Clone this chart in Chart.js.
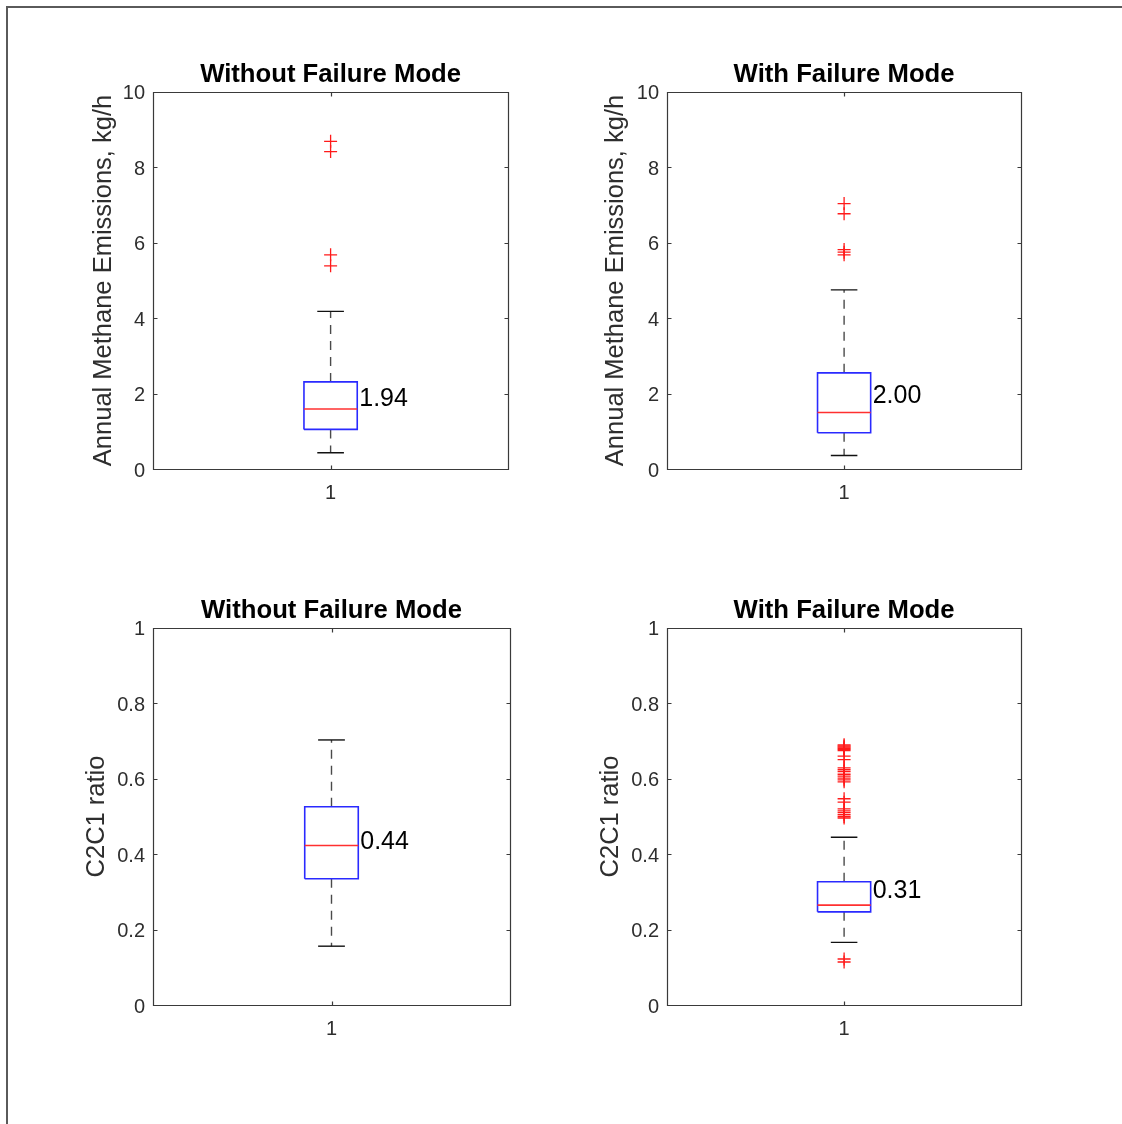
<!DOCTYPE html>
<html><head><meta charset="utf-8">
<script src="https://cdn.jsdelivr.net/npm/chart.js@4.4.0/dist/chart.umd.min.js"></script>
<style>
html,body{margin:0;padding:0;background:#fff;width:1122px;height:1124px;overflow:hidden;}
#frame{position:absolute;left:6px;top:6px;width:1200px;height:1200px;border-left:2px solid #5a5a5a;border-top:2px solid #5a5a5a;}
canvas{position:absolute;}
</style></head><body>
<div id="frame"></div>
<canvas id="c1"></canvas>
<canvas id="c2"></canvas>
<canvas id="c3"></canvas>
<canvas id="c4"></canvas>
<script>
// ---------------- data ----------------
const categories = ['1'];
const xTicks = [1];
const panelTitles = ['Without Failure Mode', 'With Failure Mode', 'Without Failure Mode', 'With Failure Mode'];
const emissionAxisLabel = 'Annual Methane Emissions, kg/h';
const ratioAxisLabel = 'C2C1 ratio';
const emissionTicks = [0, 2, 4, 6, 8, 10];
const emissionTickLabels = ['0', '2', '4', '6', '8', '10'];
const ratioTicks = [0, 0.2, 0.4, 0.6, 0.8, 1];
const ratioTickLabels = ['0', '0.2', '0.4', '0.6', '0.8', '1'];

// stats: [lower whisker, Q1, median, Q3, upper whisker]
const emissionWithoutStats = [0.43, 1.05, 1.59, 2.31, 4.18];
const emissionWithoutOutliers = [5.39, 5.68, 8.42, 8.69];
const emissionWithoutMean = 1.94;

const emissionWithStats = [0.36, 0.96, 1.50, 2.55, 4.75];
const emissionWithOutliers = [5.68, 5.75, 5.82, 6.77, 7.04];
const emissionWithMean = 2.00;

const ratioWithoutStats = [0.156, 0.335, 0.423, 0.526, 0.703];
const ratioWithoutOutliers = [];
const ratioWithoutMean = 0.44;

const ratioWithStats = [0.166, 0.247, 0.265, 0.327, 0.445];
const ratioWithOutliers = [0.690, 0.687, 0.684, 0.681, 0.678, 0.675, 0.660, 0.651,
  0.629, 0.624, 0.619, 0.612, 0.607, 0.602, 0.597, 0.592, 0.547, 0.538,
  0.520, 0.515, 0.510, 0.505, 0.500, 0.496, 0.122, 0.114];
const ratioWithMean = 0.31;

// ---------------- styling / layout ----------------
const FONT = "'Liberation Sans', Arial, Helvetica, sans-serif";
const BOX_HALF = 0.075, CAP_HALF = 0.0375;
const AXIS_COLOR = '#2e2e2e';

function seg(x0, y0, x1, y1) { return [{x: x0, y: y0}, {x: x1, y: y1}]; }

function boxDatasets(stats, outliers) {
  const [lo, q1, med, q3, hi] = stats;
  const c = xTicks[0];
  const line = (data, color, width, dash) => ({
    type: 'line', data, borderColor: color, borderWidth: width, borderDash: dash || [],
    pointRadius: 0, fill: false, tension: 0
  });
  return [
    {type: 'scatter', data: outliers.map(v => ({x: c, y: v})), pointStyle: 'cross',
      pointRadius: 6.5, borderColor: '#ff1a1a', borderWidth: 1.3, showLine: false},
    line(seg(c - BOX_HALF, med, c + BOX_HALF, med), '#ff3030', 1.6),
    line([{x: c - BOX_HALF, y: q1}, {x: c + BOX_HALF, y: q1}, {x: c + BOX_HALF, y: q3},
          {x: c - BOX_HALF, y: q3}, {x: c - BOX_HALF, y: q1}], '#2a2aff', 1.6),
    line(seg(c - CAP_HALF, hi, c + CAP_HALF, hi), '#111111', 1.4),
    line(seg(c - CAP_HALF, lo, c + CAP_HALF, lo), '#111111', 1.4),
    line(seg(c, q3, c, hi), '#4a4a4a', 1.4, [9, 7]),
    line(seg(c, q1, c, lo), '#4a4a4a', 1.4, [9, 7])
  ];
}

const frameTicks = {
  id: 'frameTicks',
  afterDatasetsDraw(chart, args, opts) {
    const {ctx, chartArea: a, scales: {x, y}} = chart;
    ctx.save();
    ctx.strokeStyle = '#3a3a3a';
    ctx.lineWidth = 1.2;
    const L = Math.round(a.left) + 0.5, R = Math.round(a.right) + 0.5;
    const T = Math.round(a.top) + 0.5, B = Math.round(a.bottom) + 0.5;
    ctx.beginPath();
    ctx.rect(L, T, R - L, B - T);
    y.ticks.forEach(t => {
      const py = Math.round(y.getPixelForValue(t.value)) + 0.5;
      ctx.moveTo(L, py); ctx.lineTo(L + 4, py);
      ctx.moveTo(R, py); ctx.lineTo(R - 4, py);
    });
    x.ticks.forEach(t => {
      const px = Math.round(x.getPixelForValue(t.value)) + 0.5;
      ctx.moveTo(px, B); ctx.lineTo(px, B - 4);
      ctx.moveTo(px, T); ctx.lineTo(px, T + 4);
    });
    ctx.stroke();
    // mean label
    ctx.fillStyle = '#000';
    ctx.font = '25px ' + FONT;
    ctx.textAlign = 'left';
    ctx.textBaseline = 'middle';
    const tx = x.getPixelForValue(xTicks[0] + BOX_HALF) + 2;
    const ty = y.getPixelForValue(opts.mean) + 3;
    ctx.fillText(opts.mean.toFixed(2), tx, ty);
    ctx.restore();
  }
};

const panels = [
  {id: 'c1', left: 89, top: 58, yW: 64, w: 357, title: panelTitles[0], label: emissionAxisLabel,
    ticks: emissionTicks, tickLabels: emissionTickLabels, stats: emissionWithoutStats, out: emissionWithoutOutliers, mean: emissionWithoutMean},
  {id: 'c2', left: 601, top: 58, yW: 66, w: 356, title: panelTitles[1], label: emissionAxisLabel,
    ticks: emissionTicks, tickLabels: emissionTickLabels, stats: emissionWithStats, out: emissionWithOutliers, mean: emissionWithMean},
  {id: 'c3', left: 82, top: 594, yW: 71, w: 357, title: panelTitles[2], label: ratioAxisLabel,
    ticks: ratioTicks, tickLabels: ratioTickLabels, stats: ratioWithoutStats, out: ratioWithoutOutliers, mean: ratioWithoutMean},
  {id: 'c4', left: 596, top: 594, yW: 71, w: 356, title: panelTitles[3], label: ratioAxisLabel,
    ticks: ratioTicks, tickLabels: ratioTickLabels, stats: ratioWithStats, out: ratioWithOutliers, mean: ratioWithMean}
];

const TITLE_H = 34, PLOT_H = 377, XAXIS_H = 45, PAD_R = 6;

panels.forEach(p => {
  const cv = document.getElementById(p.id);
  const W = p.yW + p.w + PAD_R, H = TITLE_H + PLOT_H + XAXIS_H;
  cv.width = W; cv.height = H;
  cv.style.left = p.left + 'px'; cv.style.top = p.top + 'px';
  cv.style.width = W + 'px'; cv.style.height = H + 'px';
  new Chart(cv, {
    type: 'line',
    data: {datasets: boxDatasets(p.stats, p.out)},
    plugins: [frameTicks],
    options: {
      responsive: false, animation: false, events: [], devicePixelRatio: 1,
      layout: {padding: {left: 0, top: 0, right: PAD_R, bottom: 0}},
      plugins: {
        legend: {display: false}, tooltip: {enabled: false},
        title: {display: true, text: p.title, fullSize: false, color: '#000',
          font: {family: FONT, size: 25.7, weight: 'bold', lineHeight: 1.1}, padding: {top: 3, bottom: 2.7}},
        frameTicks: {mean: p.mean}
      },
      scales: {
        x: {
          type: 'linear', min: 0.5, max: 1.5,
          afterBuildTicks: s => { s.ticks = xTicks.map(v => ({value: v})); },
          afterFit: s => { s.height = XAXIS_H; },
          ticks: {callback: (v, i) => categories[i], color: AXIS_COLOR, padding: 12, maxRotation: 0, autoSkip: false,
            font: {family: FONT, size: 20}},
          grid: {display: false, drawTicks: false}, border: {display: false}
        },
        y: {
          type: 'linear', min: p.ticks[0], max: p.ticks[p.ticks.length - 1],
          afterBuildTicks: s => { s.ticks = p.ticks.map(v => ({value: v})); },
          afterFit: s => { s.width = p.yW; },
          ticks: {callback: (v, i) => p.tickLabels[i], color: AXIS_COLOR, padding: 8, autoSkip: false, labelOffset: 2,
            font: {family: FONT, size: 20}},
          title: {display: true, text: p.label, color: AXIS_COLOR, padding: {top: 0, bottom: 0},
            font: {family: FONT, size: 25.5, lineHeight: 1.2}},
          grid: {display: false, drawTicks: false}, border: {display: false}
        }
      }
    }
  });
});
</script>
</body></html>
